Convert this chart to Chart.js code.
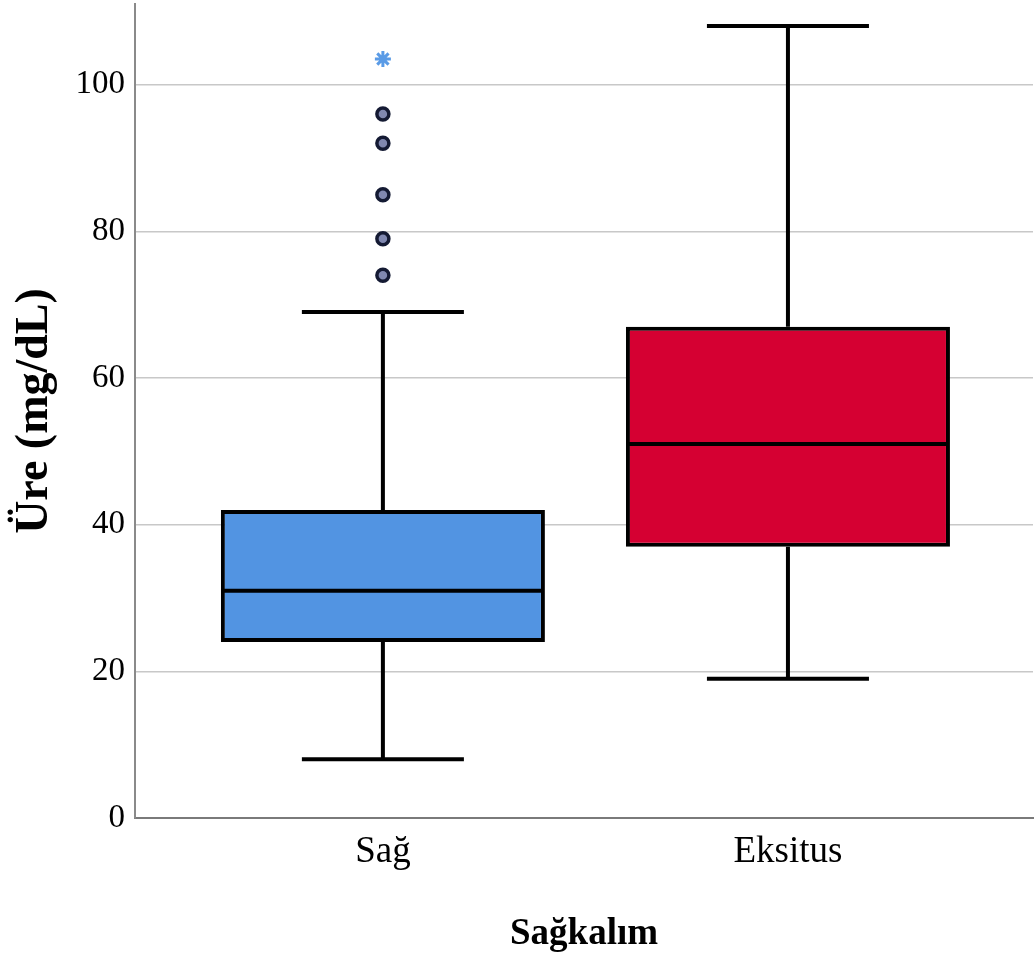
<!DOCTYPE html>
<html>
<head>
<meta charset="utf-8">
<script src="https://cdn.jsdelivr.net/npm/chart.js@4"></script>
<style>
  body { margin: 0; background: #fff; }
  #wrap { width: 1036px; height: 965px; }
</style>
</head>
<body>
<div id="wrap"><canvas id="boxChart"></canvas></div>
<script>
// Boxplot data
const groups = ['Sağ', 'Eksitus'];
const whiskerLow = [8, 19];
const q1 = [24, 37];
const median = [31, 51];
const q3 = [42, 67];
const whiskerHigh = [69, 108];
const outliersSag = [74, 79, 85, 92, 96];
const extremesSag = [103.5];
const yTicks = [0, 20, 40, 60, 80, 100];

const boxColors = ['#5294E2', '#D50032'];
const serif = "'Liberation Serif', 'Times New Roman', serif";

// whiskers + medians drawn with the chart scales
const boxParts = {
    id: 'boxParts',
    beforeDatasetsDraw(chart) {
        const { ctx, scales: { x, y } } = chart;
        ctx.save();
        ctx.strokeStyle = '#000';
        ctx.lineWidth = 4;
        groups.forEach((g, i) => {
            const cx = x.getPixelForValue(i + 1);
            ctx.beginPath();
            ctx.moveTo(cx, y.getPixelForValue(whiskerLow[i]));
            ctx.lineTo(cx, y.getPixelForValue(q1[i]));
            ctx.moveTo(cx, y.getPixelForValue(q3[i]));
            ctx.lineTo(cx, y.getPixelForValue(whiskerHigh[i]));
            ctx.stroke();
        });
        ctx.restore();
    },
    afterDatasetsDraw(chart) {
        const { ctx, scales: { x, y } } = chart;
        ctx.save();
        ctx.strokeStyle = '#000';
        ctx.lineWidth = 4;
        groups.forEach((g, i) => {
            const capL = x.getPixelForValue(i + 1 - 0.2);
            const capR = x.getPixelForValue(i + 1 + 0.2);
            const boxL = x.getPixelForValue(i + 1 - 0.4);
            const boxR = x.getPixelForValue(i + 1 + 0.4);
            [whiskerLow[i], whiskerHigh[i]].forEach(v => {
                const py = y.getPixelForValue(v);
                ctx.beginPath();
                ctx.moveTo(capL, py);
                ctx.lineTo(capR, py);
                ctx.stroke();
            });
            const my = y.getPixelForValue(median[i]);
            ctx.beginPath();
            ctx.moveTo(boxL + 2, my);
            ctx.lineTo(boxR - 2, my);
            ctx.stroke();
        });
        ctx.restore();
    }
};

new Chart(document.getElementById('boxChart'), {
    type: 'bar',
    data: {
        datasets: [{
            type: 'bar',
            data: groups.map((g, i) => ({ x: i + 1, y: [q1[i], q3[i]] })),
            backgroundColor: boxColors,
            borderColor: '#000',
            borderWidth: 4,
            borderSkipped: false,
            barPercentage: 0.8,
            categoryPercentage: 1,
            order: 2
        }, {
            type: 'scatter',
            data: outliersSag.map(v => ({ x: 1, y: v })),
            pointRadius: 6,
            pointBorderWidth: 3.5,
            borderColor: '#141a33',
            backgroundColor: '#8088b0',
            order: 1
        }, {
            type: 'scatter',
            data: extremesSag.map(v => ({ x: 1, y: v })),
            pointStyle: 'star',
            pointRadius: 8,
            pointBorderWidth: 3,
            borderColor: '#5a9be6',
            backgroundColor: '#5a9be6',
            order: 1
        }]
    },
    options: {
        responsive: true,
        maintainAspectRatio: false,
        animation: false,
        layout: { autoPadding: false, padding: { top: 4, right: 3, left: 0, bottom: 0 } },
        plugins: { legend: { display: false }, tooltip: { enabled: false } },
        scales: {
            x: {
                type: 'linear',
                offset: false,
                min: 0.388,
                max: 2.605,
                afterBuildTicks: s => { s.ticks = groups.map((g, i) => ({ value: i + 1 })); },
                afterFit: s => { s.height = 147; s.paddingLeft = 0; s.paddingRight = 0; },
                ticks: {
                    callback: v => groups[v - 1],
                    color: '#000',
                    font: { family: serif, size: 37 },
                    padding: 12,
                    maxRotation: 0
                },
                grid: { display: false, drawTicks: false },
                border: { color: '#7a7a7a', width: 2 },
                title: {
                    display: true,
                    text: 'Sağkalım',
                    color: '#000',
                    font: { family: serif, size: 37, weight: 'bold' },
                    padding: { top: 0, bottom: 8 }
                }
            },
            y: {
                min: 0,
                max: 111,
                afterBuildTicks: s => { s.ticks = yTicks.map(v => ({ value: v })); },
                afterFit: s => { s.width = 135; s.paddingTop = 0; s.paddingBottom = 0; },
                ticks: {
                    color: '#000',
                    font: { family: serif, size: 33 },
                    padding: 10
                },
                grid: { color: '#c8c8c8', lineWidth: 1.5, drawTicks: false },
                border: { color: '#8a8a8a', width: 2 },
                title: {
                    display: true,
                    text: 'Üre (mg/dL)',
                    color: '#000',
                    font: { family: serif, size: 46, weight: 'bold' },
                    padding: { top: 8, bottom: 0 }
                }
            }
        }
    },
    plugins: [boxParts]
});
</script>
</body>
</html>
